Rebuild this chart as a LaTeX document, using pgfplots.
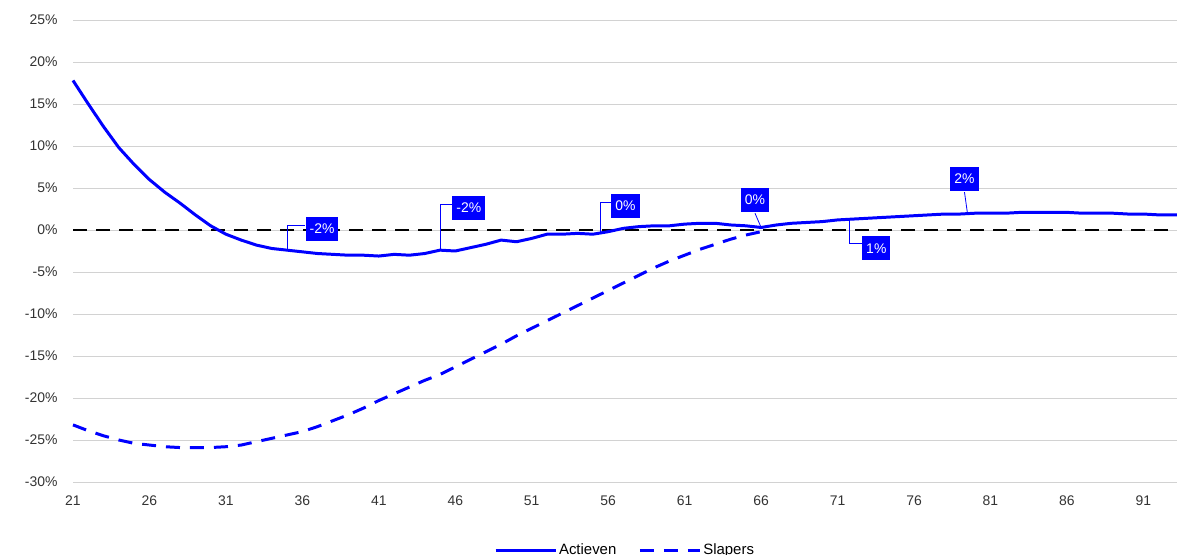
\documentclass[border=0pt]{standalone}
\usepackage{pgfplots}
\pgfplotsset{compat=1.18}
\usepackage{fontspec}
\setmainfont{Liberation Sans}
\begin{document}
\begin{tikzpicture}
\begin{axis}[
  at={(0,0)}, anchor=south west,
  scale only axis, width=1104bp, height=462bp,
  xmin=21, xmax=93.2, ymin=-30, ymax=25,
  xtick={21,26,...,91}, ytick={-30,-25,...,25},
  yticklabel={\pgfmathprintnumber{\tick}\%},
  /pgf/number format/assume math mode=true,
  ymajorgrids, grid style={gray!35, line width=0.8pt},
  axis line style={draw=none}, tick style={draw=none},
  ticklabel style={font=\fontsize{14}{16}\selectfont, text=black!80},
  yticklabel style={xshift=-12bp},
  xticklabel style={yshift=-10bp},
  legend style={at={(0.5,-0.125)}, anchor=north, draw=none, legend columns=2, font=\fontsize{15}{17}\selectfont, /tikz/every even column/.append style={column sep=20bp}},
  legend image code/.code={\draw[#1] (0bp,0bp) -- (60bp,0bp);},
  clip=false,
]
\draw[gray!35, line width=0.8pt] (axis cs:21,-30) -- (axis cs:93.2,-30);
\draw[black, line width=2.4pt, dash pattern=on 14bp off 9bp] (axis cs:21,0) -- (axis cs:93.2,0);
\addplot[blue, line width=3pt, line join=round] coordinates {
(21,17.8)(22,15)(23,12.3)(24,9.8)(25,7.8)(26,6)(27,4.5)(28,3.2)(29,1.8)(30,0.5)(31,-0.5)(32,-1.2)(33,-1.8)(34,-2.2)(35,-2.4)(36,-2.6)(37,-2.8)(38,-2.9)(39,-3)(40,-3)(41,-3.1)(42,-2.9)(43,-3)(44,-2.8)(45,-2.4)(46,-2.5)(47,-2.1)(48,-1.7)(49,-1.2)(50,-1.4)(51,-1)(52,-0.5)(53,-0.5)(54,-0.4)(55,-0.5)(56,-0.2)(57,0.2)(58,0.4)(59,0.5)(60,0.5)(61,0.7)(62,0.8)(63,0.8)(64,0.6)(65,0.5)(66,0.3)(67,0.6)(68,0.8)(69,0.9)(70,1.0)(71,1.2)(72,1.3)(73,1.4)(74,1.5)(75,1.6)(76,1.7)(77,1.8)(78,1.9)(79,1.9)(80,2)(81,2)(82,2)(83,2.1)(84,2.1)(85,2.1)(86,2.1)(87,2)(88,2)(89,2)(90,1.9)(91,1.9)(92,1.8)(93.2,1.8)};
\addlegendentry{Actieven}
\addplot[blue, line width=3pt, dash pattern=on 14bp off 10bp] coordinates {
(21,-23.2)(22,-23.9)(23,-24.5)(24,-25)(25,-25.4)(26,-25.6)(27,-25.8)(28,-25.9)(29,-25.9)(30,-25.9)(31,-25.8)(32,-25.6)(33,-25.2)(34,-24.8)(35,-24.4)(36,-24)(37,-23.4)(38,-22.7)(39,-22)(40,-21.2)(41,-20.3)(42,-19.5)(43,-18.7)(44,-17.9)(45,-17.2)(46,-16.3)(47,-15.4)(48,-14.5)(49,-13.6)(50,-12.6)(51,-11.7)(52,-10.8)(53,-9.9)(54,-9)(55,-8.1)(56,-7.2)(57,-6.3)(58,-5.4)(59,-4.5)(60,-3.7)(61,-3)(62,-2.3)(63,-1.7)(64,-1.1)(65,-0.6)(66,-0.2)};
\addlegendentry{Slapers}
\tikzset{lab/.style={fill=blue, text=white, font=\fontsize{14}{16}\selectfont, inner sep=4bp, minimum height=24bp}, lead/.style={blue, line width=0.8pt}}
\draw[lead] (axis cs:35,-2.4) -- (axis cs:35,0.5) -- (axis cs:36.2,0.5);
\node[lab, anchor=west] at (axis cs:36.2,0.1) {-2\%};
\draw[lead] (axis cs:45,-2.4) -- (axis cs:45,3) -- (axis cs:45.8,3);
\node[lab, anchor=west] at (axis cs:45.8,2.6) {-2\%};
\draw[lead] (axis cs:55.5,-0.3) -- (axis cs:55.5,3.3) -- (axis cs:56.2,3.3);
\node[lab, anchor=west] at (axis cs:56.2,2.9) {0\%};
\draw[lead] (axis cs:66,0.3) -- (axis cs:65.6,2);
\node[lab] at (axis cs:65.6,3.6) {0\%};
\draw[lead] (axis cs:71.8,1.2) -- (axis cs:71.8,-1.6) -- (axis cs:72.6,-1.6);
\node[lab, anchor=west] at (axis cs:72.6,-2.2) {1\%};
\draw[lead] (axis cs:79.5,1.9) -- (axis cs:79.3,4.5);
\node[lab] at (axis cs:79.3,6.1) {2\%};
\end{axis}
\pgfresetboundingbox
\path (-73bp,-73bp) rectangle (1104bp,482bp);
\end{tikzpicture}
\end{document}
